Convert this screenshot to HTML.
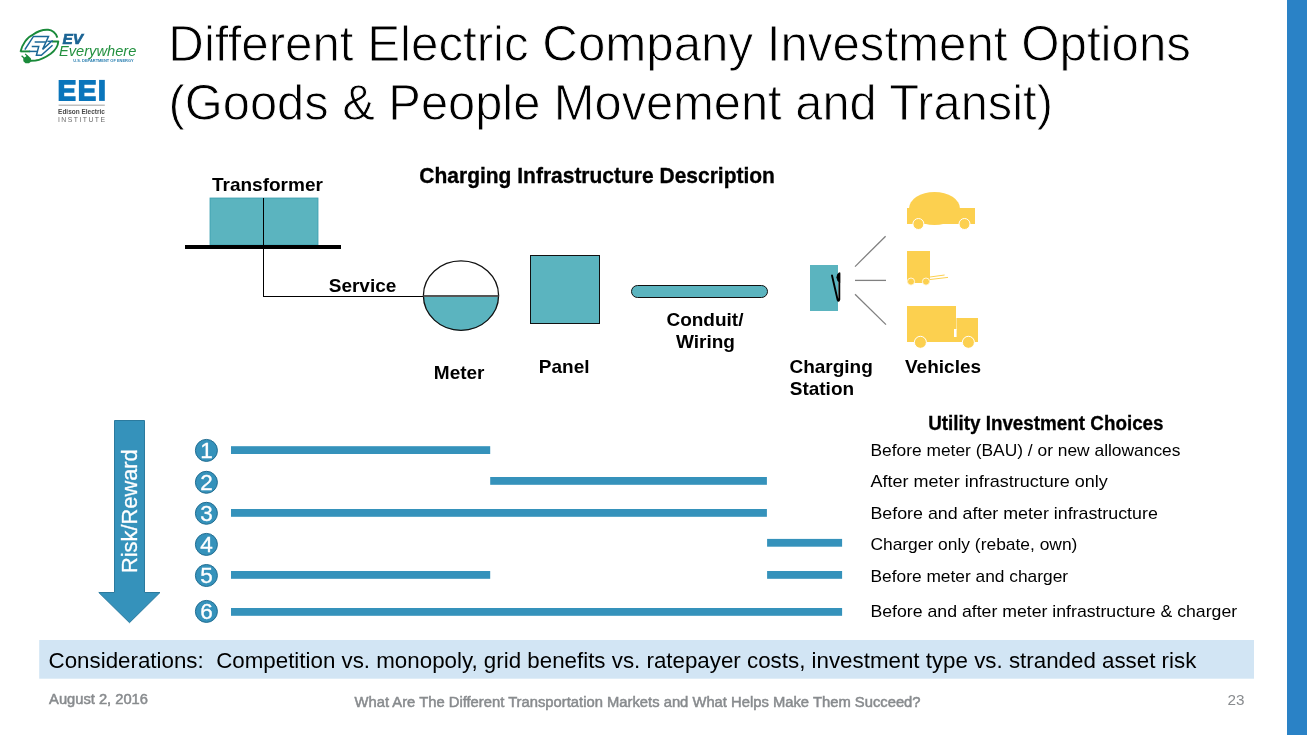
<!DOCTYPE html>
<html><head><meta charset="utf-8"><style>
html,body{margin:0;padding:0;background:#fff;width:1307px;height:735px;overflow:hidden}
svg{position:absolute;left:0;top:0;font-family:"Liberation Sans",sans-serif;will-change:transform}
</style></head><body>
<svg width="1307" height="735" viewBox="0 0 1307 735">


<!-- EV logo ring -->
<g fill="none" stroke="#1a8a3a" stroke-width="1.9" stroke-linecap="butt" stroke-linejoin="round">
<path d="M20.5,51.7 C22,45 27,37 33.1,34.6 C38,31 44,29.5 48.2,29.8 C52,30 56,33 57.4,37.6"/>
<path d="M52,41.5 L58.3,41.5 C58,46 55,50.5 50.7,53.7 C46,57 40,60 35.6,60.5 L30.6,60.7"/>
<path d="M20.5,51.4 L30.1,51.4"/>
</g>
<path d="M23.2,58.6 L27.6,55.3 L30.8,58.3 L31.4,61.2 L29,63.2 L25.5,63.2 L23.4,61.2 Z" fill="#1a8a3a"/>
<path d="M21.6,55.8 L24.6,58.4 M25.2,53.9 L27.9,56.6" stroke="#1a8a3a" stroke-width="1.3"/>
<g fill="none" stroke="#1b6797" stroke-width="1.5" stroke-linecap="square">
<path d="M25.31,49.01 L33.46,36.45 L48.48,36.45 L42.6,49.34 L52,41.02"/>
<path d="M35.42,42.0 L44.89,42.0"/>
<path d="M48.15,41.35 L52,41.35"/>
<path d="M32.49,46.57 L38.69,46.57 L36.4,55.21 L41.3,55.21 L52,45.75"/>
<path d="M30.1,51.4 L37.05,51.4"/>
</g>
<!-- EEI logo -->
<g fill="#0a75bb">
<path d="M58.65,79.9 H75.6 V84.8 H64.2 V88.2 H74.4 V92.7 H64.2 V96.2 H75.6 V100.9 H58.65 Z"/>
<path d="M78.9,79.9 H95.8 V84.8 H84.4 V88.2 H94.6 V92.7 H84.4 V96.2 H95.8 V100.9 H78.9 Z"/>
<rect x="99.1" y="79.9" width="5.7" height="21"/>
</g>
<rect x="58.6" y="104.6" width="46.2" height="1.2" fill="#b0b0b0"/>

<!-- right blue bar -->
<rect x="1287" y="0" width="20" height="735" fill="#2a82c6"/>
<!-- transformer -->
<rect x="210" y="198" width="108" height="47" fill="#5bb4bf" stroke="#3a9fb0" stroke-width="0.8"/>
<rect x="185" y="245" width="156" height="4" fill="#000"/>
<line x1="263.5" y1="198" x2="263.5" y2="296.5" stroke="#000" stroke-width="1"/>
<line x1="263" y1="296.5" x2="424" y2="296.5" stroke="#000" stroke-width="1"/>
<!-- meter -->
<path d="M423.4,296 A37.6,34.7 0 0 0 498.6,296 Z" fill="#5bb4bf"/>
<ellipse cx="461" cy="295.6" rx="37.6" ry="34.7" fill="none" stroke="#111" stroke-width="1.3"/>
<line x1="423.5" y1="296" x2="498.5" y2="296" stroke="#555" stroke-width="2"/>
<!-- panel -->
<rect x="530.5" y="255.5" width="69" height="68" fill="#5bb4bf" stroke="#111" stroke-width="1"/>
<!-- conduit -->
<rect x="631.5" y="285.5" width="136" height="12" rx="6" ry="6" fill="#5bb4bf" stroke="#111" stroke-width="1"/>
<!-- charging station -->
<rect x="810" y="265" width="28" height="46" fill="#5bb4bf"/>
<path d="M832,275.5 L837.6,299.8 Q838.6,302 839.3,299.5 L839.3,273.5" fill="none" stroke="#000" stroke-width="1.9" stroke-linejoin="round" stroke-linecap="round"/>
<path d="M840.2,272.3 L837.3,274 L836.4,277.5 L837.5,281 L840.2,283 Z" fill="#000"/>
<line x1="855" y1="266.6" x2="885.6" y2="236.2" stroke="#808080" stroke-width="1.3"/>
<line x1="855" y1="280.4" x2="886" y2="280.4" stroke="#808080" stroke-width="1.3"/>
<line x1="855" y1="294.3" x2="886" y2="324.6" stroke="#808080" stroke-width="1.3"/>
<!-- car -->
<g fill="#fcd04f">
<ellipse cx="934.5" cy="208.5" rx="25.5" ry="16.5"/>
<rect x="907" y="208" width="68" height="16"/>
<circle cx="918.4" cy="224" r="5.5" stroke="#fff" stroke-width="1"/>
<circle cx="964.5" cy="224" r="5.5" stroke="#fff" stroke-width="1"/>
</g>
<!-- forklift -->
<g fill="#fcd04f">
<rect x="907" y="251" width="23" height="32"/>
<circle cx="911" cy="281.6" r="3.6" stroke="#fff" stroke-width="0.8"/>
<circle cx="926" cy="281.6" r="3.6" stroke="#fff" stroke-width="0.8"/>
<line x1="930" y1="277" x2="944.6" y2="275" stroke="#fcd04f" stroke-width="1"/>
<line x1="930" y1="279.5" x2="948" y2="277.4" stroke="#fcd04f" stroke-width="1"/>
</g>
<!-- truck -->
<g fill="#fcd04f">
<rect x="907" y="306" width="49" height="36"/>
<rect x="955.5" y="318" width="22.5" height="24"/>
<rect x="954" y="329" width="2.6" height="8" fill="#fff"/>
<rect x="956" y="318" width="0.7" height="12" fill="#fff" fill-opacity="0.6"/>
<circle cx="920.4" cy="342.3" r="6" stroke="#fff" stroke-width="1"/>
<circle cx="968.4" cy="342.3" r="6" stroke="#fff" stroke-width="1"/>
</g>
<!-- risk arrow -->
<path d="M114.5,420.5 L144.5,420.5 L144.5,592.5 L160,592.5 L129.5,622.7 L98.8,592.5 L114.5,592.5 Z" fill="#3592bb" stroke="#2b7a9e" stroke-width="1"/>
<!-- bars -->
<g fill="#3592bb">
<rect x="231" y="446.2" width="259.2" height="7.8"/>
<rect x="490.2" y="477" width="276.7" height="7.8"/>
<rect x="231" y="509" width="535.9" height="7.8"/>
<rect x="767.1" y="538.9" width="75" height="7.8"/>
<rect x="231" y="571" width="259.2" height="7.8"/>
<rect x="767.1" y="571" width="75" height="7.8"/>
<rect x="231" y="608" width="611.1" height="7.8"/>
</g>
<g fill="#3592bb" stroke="#226d91" stroke-width="1">
<circle cx="206.4" cy="450.4" r="11"/>
<circle cx="206.4" cy="482.3" r="11"/>
<circle cx="206.4" cy="513.3" r="11"/>
<circle cx="206.4" cy="544.4" r="11"/>
<circle cx="206.4" cy="575.5" r="11"/>
<circle cx="206.4" cy="611.4" r="11"/>
</g>
<text x="206.5" y="458.0" text-anchor="middle" font-size="22.5" fill="#fff" stroke="#fff" stroke-width="0.35">1</text>
<text x="206.5" y="489.9" text-anchor="middle" font-size="22.5" fill="#fff" stroke="#fff" stroke-width="0.35">2</text>
<text x="206.5" y="520.9" text-anchor="middle" font-size="22.5" fill="#fff" stroke="#fff" stroke-width="0.35">3</text>
<text x="206.5" y="552.0" text-anchor="middle" font-size="22.5" fill="#fff" stroke="#fff" stroke-width="0.35">4</text>
<text x="206.5" y="583.1" text-anchor="middle" font-size="22.5" fill="#fff" stroke="#fff" stroke-width="0.35">5</text>
<text x="206.5" y="619.0" text-anchor="middle" font-size="22.5" fill="#fff" stroke="#fff" stroke-width="0.35">6</text>
<!-- considerations box -->
<rect x="39.2" y="640" width="1214.8" height="38.7" fill="#d2e5f4"/>

<text x="-3.92" transform="translate(172.20,61.40) scale(0.9821,1)" font-size="50.14" font-weight="normal" fill="#000" stroke="#fff" stroke-width="0.9">Different Electric Company Investment Options</text>
<text x="-2.35" transform="translate(170.90,119.90) scale(0.9736,1)" font-size="50.14" font-weight="normal" fill="#000" stroke="#fff" stroke-width="0.9">(Goods &amp; People Movement and Transit)</text>
<text x="-0.70" transform="translate(420.00,183.00) scale(0.9403,1)" font-size="22.32" font-weight="bold" fill="#000" stroke="#000" stroke-width="0.35">Charging Infrastructure Description</text>
<text x="0.00" transform="translate(212.00,191.00) scale(1.0000,1)" font-size="19.00" font-weight="bold" fill="#000">Transformer</text>
<text x="-0.30" transform="translate(329.00,292.00) scale(1.0000,1)" font-size="19.00" font-weight="bold" fill="#000">Service</text>
<text x="-1.19" transform="translate(435.00,379.00) scale(1.0000,1)" font-size="19.00" font-weight="bold" fill="#000">Meter</text>
<text x="-1.19" transform="translate(540.00,373.00) scale(1.0000,1)" font-size="19.00" font-weight="bold" fill="#000">Panel</text>
<text x="-0.59" transform="translate(667.00,326.00) scale(1.0000,1)" font-size="19.00" font-weight="bold" fill="#000">Conduit/</text>
<text x="0.00" transform="translate(676.00,347.50) scale(1.0000,1)" font-size="19.00" font-weight="bold" fill="#000">Wiring</text>
<text x="-0.59" transform="translate(790.00,373.00) scale(1.0000,1)" font-size="19.00" font-weight="bold" fill="#000">Charging</text>
<text x="-0.30" transform="translate(790.00,395.00) scale(1.0000,1)" font-size="19.00" font-weight="bold" fill="#000">Station</text>
<text x="0.00" transform="translate(905.00,373.00) scale(1.0000,1)" font-size="19.00" font-weight="bold" fill="#000">Vehicles</text>
<text x="-0.92" transform="translate(929.00,429.80) scale(0.9562,1)" font-size="19.71" font-weight="bold" fill="#000" stroke="#000" stroke-width="0.3">Utility Investment Choices</text>
<text x="-1.36" transform="translate(871.80,455.80) scale(1.0001,1)" font-size="17.39" font-weight="normal" fill="#000">Before meter (BAU) / or new allowances</text>
<text x="0.00" transform="translate(870.60,486.80) scale(1.0364,1)" font-size="17.39" font-weight="normal" fill="#000">After meter infrastructure only</text>
<text x="-1.36" transform="translate(871.80,518.90) scale(1.0257,1)" font-size="17.39" font-weight="normal" fill="#000">Before and after meter infrastructure</text>
<text x="-0.82" transform="translate(871.20,549.70) scale(1.0017,1)" font-size="17.39" font-weight="normal" fill="#000">Charger only (rebate, own)</text>
<text x="-1.36" transform="translate(871.80,581.70) scale(0.9983,1)" font-size="17.39" font-weight="normal" fill="#000">Before meter and charger</text>
<text x="-1.36" transform="translate(871.80,617.10) scale(1.0181,1)" font-size="17.39" font-weight="normal" fill="#000">Before and after meter infrastructure &amp; charger</text>
<text x="-1.04" transform="translate(49.60,667.50) scale(1.0075,1)" font-size="22.17" font-weight="normal" fill="#000">Considerations:&#160; Competition vs. monopoly, grid benefits vs. ratepayer costs, investment type vs. stranded asset risk</text>
<text x="0.00" transform="translate(49.10,703.90) scale(1.0576,1)" font-size="13.91" font-weight="normal" fill="#888b8e" stroke="#888b8e" stroke-width="0.5">August 2, 2016</text>
<text x="0.00" transform="translate(354.50,707.00) scale(1.0217,1)" font-size="14.49" font-weight="normal" fill="#888b8e" stroke="#888b8e" stroke-width="0.5">What Are The Different Transportation Markets and What Helps Make Them Succeed?</text>
<text x="-0.68" transform="translate(1228.30,705.00) scale(1.0570,1)" font-size="14.49" font-weight="normal" fill="#888b8e">23</text>
<text x="-1.73" transform="translate(136.70,571.40) rotate(-90) scale(0.9861,1)" font-size="22.17" font-weight="normal" fill="#fff" stroke="#fff" stroke-width="0.3">Risk/Reward</text>
<text x="-0.23" transform="translate(62.80,44.40) scale(1.0635,1)" font-size="14.49" font-weight="bold" fill="#1b6494" font-style="italic" stroke="#1b6494" stroke-width="0.6">EV</text>
<text x="-0.23" transform="translate(59.20,55.60) scale(1.0114,1)" font-size="14.49" font-weight="normal" fill="#22903f" font-style="italic">Everywhere</text>
<text x="-0.19" transform="translate(73.50,61.80) scale(0.9758,1)" font-size="4.06" font-weight="bold" fill="#2a7fb0">U.S. DEPARTMENT OF ENERGY</text>
<text x="-0.43" transform="translate(58.50,113.90) scale(0.9524,1)" font-size="6.81" font-weight="bold" fill="#4a4a4a">Edison Electric</text>
<text x="-0.55" transform="translate(58.50,122.30) scale(0.9679,1)" font-size="7.10" font-weight="normal" fill="#6a6a6a" letter-spacing="1.5">INSTITUTE</text>
</svg>
</body></html>
